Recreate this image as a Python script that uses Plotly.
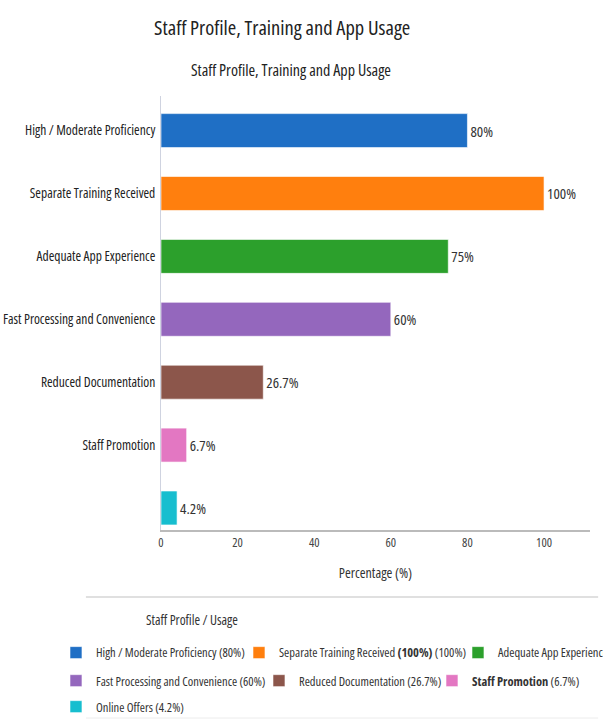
import plotly.graph_objects as go

# Survey results: share of staff per profile / usage item
categories = [
    "High / Moderate Proficiency",
    "Separate Training Received",
    "Adequate App Experience",
    "Fast Processing and Convenience",
    "Reduced Documentation",
    "Staff Promotion",
    "Online Offers",
]
values = [80, 100, 75, 60, 26.7, 6.7, 4.2]
axis_labels = [
    "High / Moderate Proficiency",
    "Separate Training Received",
    "Adequate App Experience",
    "Fast Processing and Convenience",
    "Reduced Documentation",
    "Staff Promotion",
    "",
]
legend_labels = [
    "High / Moderate Proficiency",
    "Separate Training Received <b>(100%)</b>",
    "Adequate App Experience",
    "Fast Processing and Convenience",
    "Reduced Documentation",
    "<b>Staff Promotion</b>",
    "Online Offers",
]
colors = ["#1f6fc5", "#ff7f0e", "#2ca02c", "#9467bd", "#8c564b", "#e377c2", "#17becf"]
legend_rows = ["legend", "legend", "legend", "legend2", "legend2", "legend2", "legend3"]
legend_widths = [138, 174, 106, 158, 128, None, None]
x_ticks = [0, 20, 40, 60, 80, 100]

FONT = "Open Sans, Liberation Sans, sans-serif"


def cond(s):
    """Wrap a label in a condensed-width span."""
    return f'<span style="font-stretch:80%">{s}</span>'


fig = go.Figure()
for i, (cat, val) in enumerate(zip(categories, values)):
    fig.add_trace(go.Bar(
        y=[cat], x=[val], orientation="h",
        name=cond(f"{legend_labels[i]} ({val:g}%)"),
        marker=dict(color=colors[i], line=dict(color="rgba(255,255,255,0.6)", width=1)),
        text=[cond(f"{val:g}%")], textposition="outside", cliponaxis=False,
        textfont=dict(size=15, color="#333", family=FONT),
        legend=legend_rows[i],
        legendwidth=legend_widths[i],
    ))

legend_common = dict(
    orientation="h", xanchor="left", yanchor="top", x=-0.2448,
    font=dict(size=12.5, color="#333", family=FONT),
    bgcolor="rgba(0,0,0,0)", itemclick=False, itemdoubleclick=False,
)

fig.update_layout(
    width=603, height=727,
    paper_bgcolor="white", plot_bgcolor="white",
    margin=dict(l=161, r=13, t=96, b=197, autoexpand=False),
    barmode="overlay", bargap=0.46,
    font=dict(family=FONT, color="#333"),
    title=dict(text=cond("Staff Profile, Training and App Usage"), x=0.468, xanchor="center",
               y=0.9615, yanchor="middle", font=dict(size=20.5, color="#222", family=FONT)),
    legend=dict(legend_common, y=-0.2488),
    legend2=dict(legend_common, y=-0.3134),
    legend3=dict(legend_common, y=-0.3733),
    xaxis=dict(range=[0, 112], tickvals=x_ticks, ticktext=[cond(str(v)) for v in x_ticks],
               showgrid=False, zeroline=False,
               showline=True, linecolor="#bbb", linewidth=1.5, ticks="",
               tickfont=dict(size=12.5, color="#444"),
               title=dict(text=cond("Percentage (%)"), font=dict(size=14, color="#333"), standoff=18)),
    yaxis=dict(categoryorder="array", categoryarray=categories, range=[6.35, -0.55],
               tickvals=categories, ticktext=[cond(t) for t in axis_labels], showgrid=False,
               showline=True, linecolor="#cfd3e0", linewidth=1, ticks="",
               ticklabelstandoff=2, tickfont=dict(size=13.5, color="#222")),
    annotations=[
        dict(text=cond("Staff Profile, Training and App Usage"), xref="paper", yref="paper",
             x=0.303, y=1.06, xanchor="center", yanchor="middle", showarrow=False,
             font=dict(size=16, color="#222", family=FONT)),
        dict(text=cond("Staff Profile / Usage"), xref="paper", yref="paper",
             x=0.072, y=-0.2074, xanchor="center", yanchor="middle", showarrow=False,
             font=dict(size=13.5, color="#333", family=FONT)),
    ],
    shapes=[
        dict(type="line", xref="paper", yref="paper", x0=-0.175, x1=1.019,
             y0=-0.1544, y1=-0.1544, line=dict(color="#d6d6d6", width=1.5)),
        dict(type="line", xref="paper", yref="paper", x0=-0.175, x1=1.019,
             y0=-0.4332, y1=-0.4332, line=dict(color="#ececec", width=1)),
    ],
)

fig.write_html("out.html")
